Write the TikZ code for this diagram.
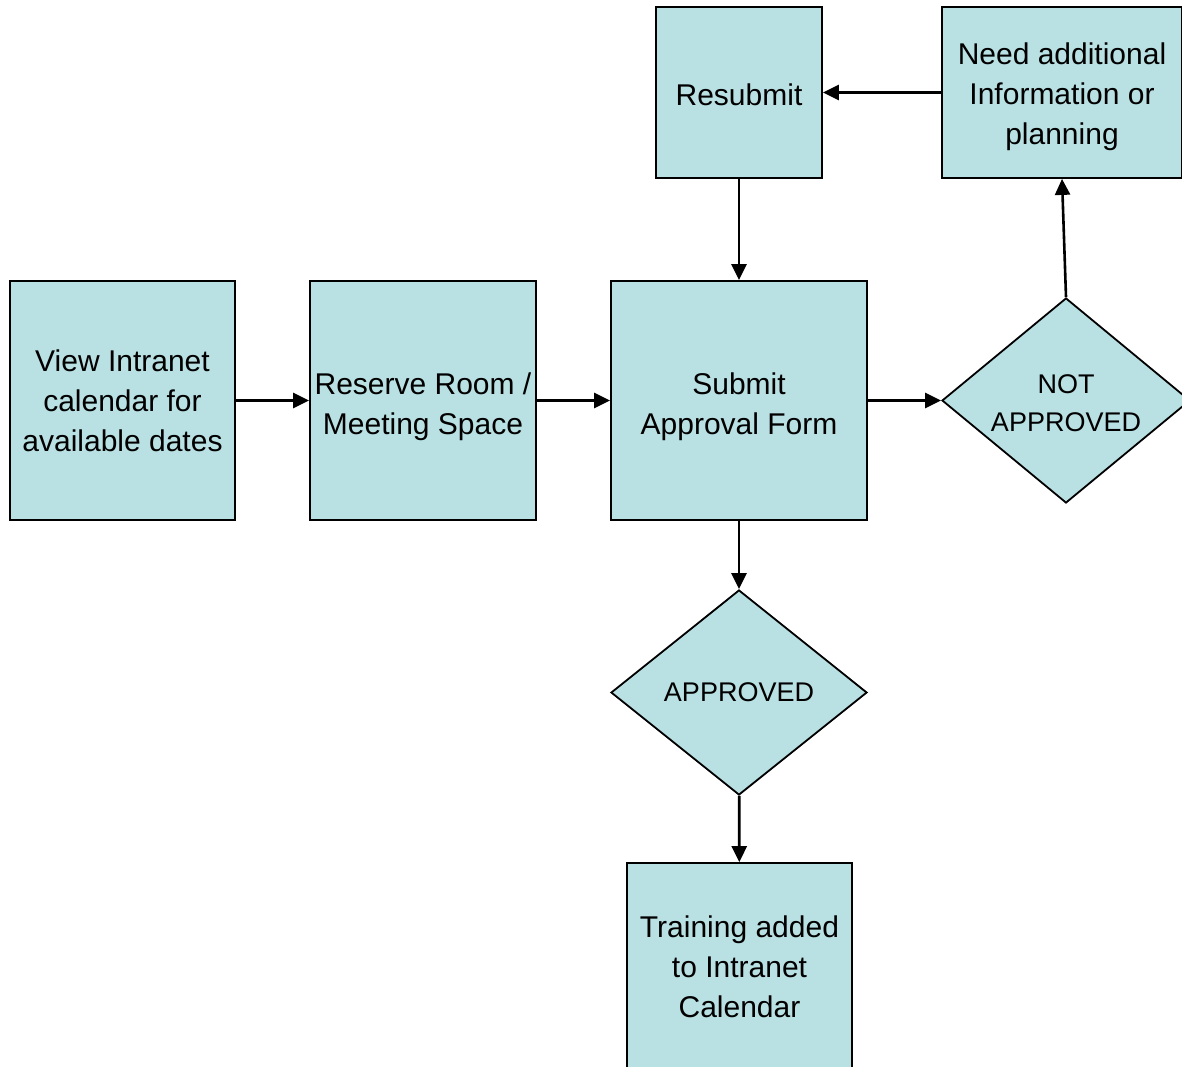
\documentclass[tikz,border=0pt]{standalone}
\usepackage{fontspec}
\setmainfont{Liberation Sans}
\usetikzlibrary{arrows.meta,shapes.geometric}
\definecolor{boxfill}{RGB}{185,224,227}
\tikzset{
  stepbox/.style={draw=black,line width=1.8pt,fill=boxfill,rectangle,inner sep=0pt,
    align=center,font=\fontsize{30}{40}\selectfont},
  decide/.style={draw=black,line width=1.8pt,fill=boxfill,diamond,inner sep=0pt,
    shape aspect=1.21,align=center,font=\fontsize{27}{38}\selectfont},
  arr/.style={line width=2.6pt,-{Triangle[length=16pt,width=15pt]}}
}
\begin{document}
\begin{tikzpicture}[x=1pt,y=-1pt]
\useasboundingbox (0,0) rectangle (1182,1066);
\clip (0,0) rectangle (1182,1066);
\fill[white] (0,0) rectangle (1182,1066);
\node[stepbox,minimum width=225pt,minimum height=239pt] (view) at (122.5,400.5)
  {View Intranet\\calendar for\\available dates};
\node[stepbox,minimum width=226pt,minimum height=239pt] (reserve) at (423,400.5)
  {\rule{0pt}{34pt}Reserve Room /\\Meeting Space};
\node[stepbox,minimum width=256pt,minimum height=239pt] (submit) at (739,400.5)
  {\rule{0pt}{34pt}Submit\\Approval Form};
\node[stepbox,minimum width=166pt,minimum height=171pt] (resubmit) at (739,92.5)
  {\rule{0pt}{26pt}Resubmit};
\node[stepbox,minimum width=240pt,minimum height=171pt] (need) at (1062,92.5)
  {\rule{0pt}{30pt}Need additional\\Information or\\planning};
\node[decide,minimum width=248pt,minimum height=205pt] (notap) at (1066,400.5)
  {\rule{0pt}{25pt}NOT\\APPROVED};
\node[decide,minimum width=256pt,minimum height=205pt] (approved) at (739,692.5)
  {APPROVED};
\node[stepbox,minimum width=225pt,minimum height=208pt] (training) at (739.5,967)
  {Training added\\to Intranet\\Calendar};
\draw[arr] (view) -- (reserve);
\draw[arr] (reserve) -- (submit);
\draw[arr] (submit) -- (notap);
\draw[arr] (notap.north) -- (need.south);
\draw[arr] (need) -- (resubmit);
\draw[arr] (resubmit) -- (submit);
\draw[arr] (submit) -- (approved);
\draw[arr] (approved) -- (training);
\end{tikzpicture}
\end{document}
